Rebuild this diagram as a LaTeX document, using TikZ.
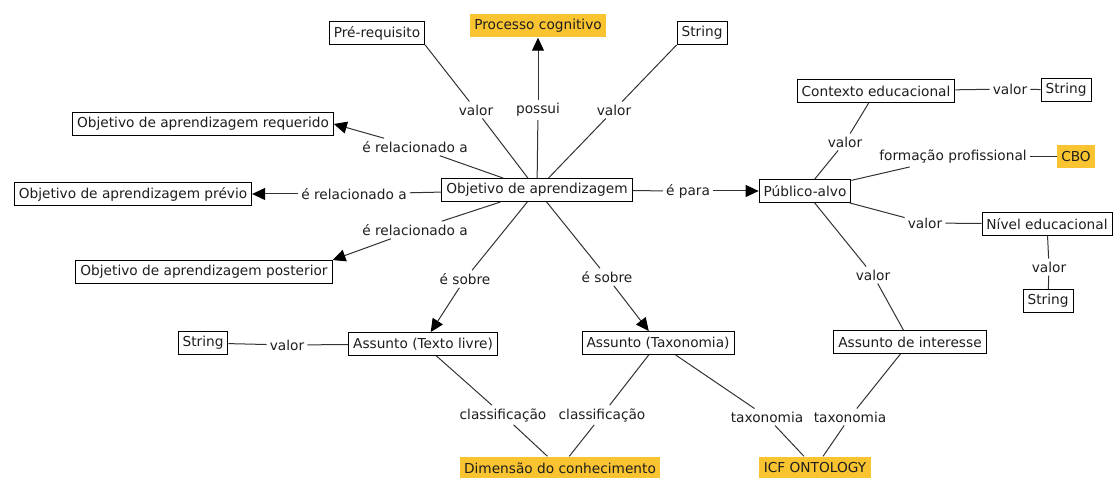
\documentclass[tikz,border=0pt]{standalone}
\usepackage{fontspec}
\setmainfont{DejaVu Sans}
\usetikzlibrary{arrows.meta}
\definecolor{conceptyellow}{RGB}{250,196,48}
\definecolor{inkgray}{RGB}{50,50,50}
\definecolor{textdark}{RGB}{30,30,30}
\begin{document}
\begin{tikzpicture}[x=1pt,y=-1pt,
  every node/.style={font=\fontsize{13.7}{16}\selectfont, text=textdark},
  concept/.style={draw=black, line width=0.9pt, fill=white, inner xsep=4.5pt, inner ysep=3pt, minimum height=23pt},
  hilite/.style={fill=conceptyellow, inner xsep=4.5pt, inner ysep=3pt, minimum height=23pt},
  linklbl/.style={inner sep=3pt},
  link/.style={draw=inkgray, line width=1pt},
  linkarrow/.style={link, -{Triangle[length=13pt,width=12pt,color=black]}}
]
\useasboundingbox (0,0) rectangle (1115,478);

% concepts
\node[concept] (obj)  at (537,190) {Objetivo de aprendizagem};
\node[concept] (pre)  at (377,33)  {Pré-requisito};
\node[hilite]  (proc) at (538,26)  {Processo cognitivo};
\node[concept] (str1) at (702,33)  {String};
\node[concept] (req)  at (203,124) {Objetivo de aprendizagem requerido};
\node[concept] (prev) at (133,194) {Objetivo de aprendizagem prévio};
\node[concept] (post) at (204,272) {Objetivo de aprendizagem posterior};
\node[concept] (pub)  at (805,191) {Público-alvo};
\node[concept] (ctx)  at (876,91)  {Contexto educacional};
\node[concept] (str2) at (1066,90) {String};
\node[hilite]  (cbo)  at (1076,157) {CBO};
\node[concept] (niv)  at (1047,224) {Nível educacional};
\node[concept] (str3) at (1048,301) {String};
\node[concept] (int)  at (910,342) {Assunto de interesse};
\node[concept] (tax)  at (658,343) {Assunto (Taxonomia)};
\node[concept] (txt)  at (423,344) {Assunto (Texto livre)};
\node[concept] (str4) at (203,343) {String};
\node[hilite]  (dim)  at (560,468) {Dimensão do conhecimento};
\node[hilite]  (icf)  at (815,468) {ICF ONTOLOGY};

% link labels
\node[linklbl] (l1)  at (476,110) {valor};
\node[linklbl] (l2)  at (538,110) {possui};
\node[linklbl] (l3)  at (614,110) {valor};
\node[linklbl] (l4)  at (415,147) {é relacionado a};
\node[linklbl] (l5)  at (354,194) {é relacionado a};
\node[linklbl] (l6)  at (415,230) {é relacionado a};
\node[linklbl] (l7)  at (688,191) {é para};
\node[linklbl] (l8)  at (465,279) {é sobre};
\node[linklbl] (l9)  at (607,277) {é sobre};
\node[linklbl] (l10) at (845,142) {valor};
\node[linklbl] (l11) at (1010,89) {valor};
\node[linklbl] (l12) at (953,157) {formação profissional};
\node[linklbl] (l13) at (925,223) {valor};
\node[linklbl] (l14) at (1049,267) {valor};
\node[linklbl] (l15) at (873,275) {valor};
\node[linklbl] (l16) at (287,345) {valor};
\node[linklbl] (l17) at (503,415) {classificação};
\node[linklbl] (l18) at (602,415) {classificação};
\node[linklbl] (l19) at (767,417) {taxonomia};
\node[linklbl] (l20) at (850,417) {taxonomia};

% links around the central concept
\draw[link] (pre.south east) -- (l1);  \draw[link] (l1) -- (obj);
\draw[link] (obj) -- (l2);             \draw[linkarrow] (l2) -- (proc);
\draw[link] (str1.south west) -- (l3); \draw[link] (l3) -- (obj);
\draw[link] (obj) -- (l4);             \draw[linkarrow] (l4) -- (req.east);
\draw[link] (obj) -- (l5);             \draw[linkarrow] (l5) -- (prev);
\draw[link] (obj) -- (l6);             \draw[linkarrow] (l6) -- (post.north east);
\draw[link] (obj) -- (l7);             \draw[linkarrow] (l7) -- (pub);
\draw[link] (obj) -- (l8);             \draw[linkarrow] (l8) -- (txt);
\draw[link] (obj) -- (l9);             \draw[linkarrow] (l9) -- (tax);

% audience branch
\draw[link] (pub) -- (l10);  \draw[link] (l10) -- (ctx);
\draw[link] (ctx) -- (l11);  \draw[link] (l11) -- (str2);
\draw[link] (pub) -- (l12);  \draw[link] (l12) -- (cbo);
\draw[link] (pub) -- (l13);  \draw[link] (l13) -- (niv);
\draw[link] (niv) -- (l14);  \draw[link] (l14) -- (str3);
\draw[link] (pub) -- (l15);  \draw[link] (l15) -- (int);

% subject branch
\draw[link] (txt) -- (l16);  \draw[link] (l16) -- (str4);
\draw[link] (txt) -- (l17);  \draw[link] (l17) -- (dim);
\draw[link] (tax) -- (l18);  \draw[link] (l18) -- (dim);
\draw[link] (tax) -- (l19);  \draw[link] (l19) -- (icf);
\draw[link] (int) -- (l20);  \draw[link] (l20) -- (icf);
\end{tikzpicture}
\end{document}
